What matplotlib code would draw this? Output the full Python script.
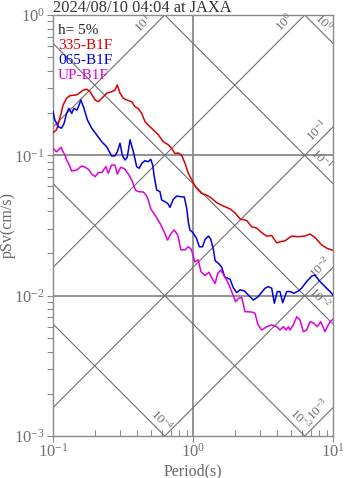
import numpy as np
import matplotlib
matplotlib.use("Agg")
import matplotlib.pyplot as plt
from matplotlib.ticker import LogLocator, FuncFormatter, NullFormatter

plt.rcParams['font.family'] = ['Liberation Serif', 'DejaVu Serif']
plt.rcParams['mathtext.fontset'] = 'custom'
plt.rcParams['mathtext.rm'] = 'Liberation Serif'
plt.rcParams['mathtext.it'] = 'Liberation Serif:italic'
plt.rcParams['mathtext.bf'] = 'Liberation Serif:bold'

# ---- spectra: period (s) and pseudo velocity (cm/s), damping 5% ----
red_T = [0.100, 0.106, 0.112, 0.118, 0.125, 0.132, 0.148, 0.165, 0.174, 0.184, 0.200,
         0.211, 0.229, 0.242, 0.262, 0.277, 0.288, 0.301, 0.318, 0.336, 0.365,
         0.385, 0.406, 0.430, 0.454, 0.479, 0.520, 0.565, 0.613, 0.666, 0.704,
         0.743, 0.785, 0.830, 0.877, 0.925, 0.995, 1.06, 1.15, 1.25, 1.36,
         1.48, 1.65, 1.84, 2.00, 2.17, 2.42, 2.62, 2.85, 3.10, 3.36,
         3.65, 3.96, 4.18, 4.54, 5.07, 5.65, 6.31, 6.85, 7.43, 8.30, 9.02, 10.0]
red_v = [0.145, 0.152, 0.184, 0.228, 0.255, 0.266, 0.270, 0.292, 0.296, 0.284, 0.248,
         0.241, 0.262, 0.277, 0.284, 0.292, 0.317, 0.277, 0.255, 0.248, 0.241,
         0.222, 0.216, 0.199, 0.174, 0.164, 0.152, 0.140, 0.125, 0.119, 0.112,
         0.103, 0.104, 0.100, 0.0877, 0.0745, 0.0649, 0.0582, 0.0536, 0.0521, 0.0494,
         0.0459, 0.0435, 0.0415, 0.0388, 0.0352, 0.0343, 0.0310, 0.0303, 0.0281, 0.0266,
         0.0268, 0.0238, 0.0242, 0.0246, 0.0266, 0.0263, 0.0266, 0.0275, 0.0260, 0.0230,
         0.0218, 0.0210]

blue_T = [0.100, 0.103, 0.109, 0.115, 0.120, 0.125, 0.130, 0.136, 0.141, 0.148,
          0.152, 0.158, 0.165, 0.176, 0.189, 0.205, 0.223, 0.242, 0.262, 0.277,
          0.288, 0.301, 0.313, 0.327, 0.339, 0.355, 0.375, 0.396, 0.413, 0.430,
          0.454, 0.479, 0.499, 0.515, 0.529, 0.550, 0.581, 0.597, 0.631, 0.659,
          0.685, 0.723, 0.765, 0.821, 0.866, 0.902, 0.925, 0.950, 1.00, 1.06,
          1.11, 1.17, 1.22, 1.29, 1.34, 1.40, 1.44, 1.52, 1.60, 1.69,
          1.84, 1.94, 2.05, 2.17, 2.33, 2.55, 2.70, 2.92, 3.27, 3.45,
          3.65, 3.81, 4.00, 4.18, 4.37, 4.67, 4.93, 5.26, 5.65, 5.97,
          6.48, 7.05, 7.43, 8.07, 8.77, 9.52, 10.0]
blue_v = [0.205, 0.179, 0.160, 0.156, 0.169, 0.199, 0.216, 0.199, 0.216, 0.210,
          0.222, 0.248, 0.222, 0.179, 0.156, 0.140, 0.125, 0.115, 0.0990, 0.0990,
          0.106, 0.122, 0.100, 0.0926, 0.0968, 0.129, 0.106, 0.0830, 0.0809, 0.0877,
          0.0916, 0.0901, 0.0937, 0.0853, 0.0705, 0.0566, 0.0551, 0.0481, 0.0467, 0.0455,
          0.0426, 0.0486, 0.0513, 0.0507, 0.0505, 0.0419, 0.0337, 0.0294, 0.0281, 0.0256,
          0.0223, 0.0223, 0.0252, 0.0266, 0.0252, 0.0212, 0.0177, 0.0170, 0.0160, 0.0135,
          0.0131, 0.0114, 0.0105, 0.0110, 0.0108, 0.00984, 0.00931, 0.00984, 0.0113, 0.0116,
          0.0113, 0.00883, 0.0107, 0.0107, 0.00891, 0.0107, 0.0107, 0.0104, 0.0108, 0.0113,
          0.0126, 0.0138, 0.0140, 0.0126, 0.0116, 0.0107, 0.0101]

mag_T = [0.100, 0.106, 0.114, 0.118, 0.122, 0.125, 0.129, 0.136, 0.148, 0.160,
         0.169, 0.179, 0.189, 0.200, 0.211, 0.223, 0.239, 0.248, 0.262, 0.277,
         0.288, 0.305, 0.324, 0.349, 0.365, 0.388, 0.406, 0.442, 0.467, 0.479,
         0.493, 0.501, 0.535, 0.581, 0.613, 0.659, 0.697, 0.735, 0.778, 0.821,
         0.877, 0.925, 0.968, 1.00, 1.03, 1.09, 1.14, 1.22, 1.30, 1.36,
         1.44, 1.50, 1.58, 1.69, 1.79, 1.91, 2.02, 2.11, 2.23, 2.35,
         2.62, 2.77, 2.92, 3.10, 3.36, 3.65, 3.96, 4.18, 4.42, 4.62,
         4.80, 4.93, 5.20, 5.51, 5.81, 6.14, 6.48, 6.85, 7.31, 7.73,
         8.17, 8.77, 9.10, 9.52, 10.0]
mag_v = [0.112, 0.106, 0.114, 0.106, 0.100, 0.0926, 0.0877, 0.0773, 0.0786, 0.0839,
         0.0826, 0.0795, 0.0736, 0.0705, 0.0755, 0.0753, 0.0832, 0.0745, 0.0853, 0.0853,
         0.0736, 0.0822, 0.0802, 0.0724, 0.0667, 0.0566, 0.0551, 0.0548, 0.0513, 0.0481,
         0.0435, 0.0412, 0.0376, 0.0328, 0.0294, 0.0249, 0.0278, 0.0294, 0.0270, 0.0212,
         0.0212, 0.0223, 0.0215, 0.0195, 0.0174, 0.0180, 0.0148, 0.0139, 0.0147, 0.0134,
         0.0122, 0.0144, 0.0152, 0.0136, 0.0122, 0.0104, 0.00906, 0.00958, 0.00970, 0.00769,
         0.00765, 0.00749, 0.00618, 0.00569, 0.00601, 0.00618, 0.00601, 0.00569, 0.00601, 0.00569,
         0.00601, 0.00569, 0.00618, 0.00708, 0.00671, 0.00554, 0.00569, 0.00652, 0.00635, 0.00601,
         0.00652, 0.00554, 0.00601, 0.00652, 0.00679]

series_names = ['335-B1F', '065-B1F', 'UP-B1F']
series_colors = ['#dd0000', '#0000dd', '#dd00dd']

# tripartite guide levels
accel_levels = [10, 1, 0.1, 0.01, 0.001]        # cm/s^2
disp_levels = [1, 0.1, 0.01, 0.001, 0.0001]     # cm
accel_exps = [1, 0, -1, -2, -3]
disp_exps = [0, -1, -2, -3, -4]

title = '2024/08/10 04:04 at JAXA'

fig = plt.figure(figsize=(3.47, 4.78), dpi=100)
ax = fig.add_axes([53 / 347, 1 - 436 / 478, 280 / 347, 421 / 478])
ax.set_xscale('log')
ax.set_yscale('log')
ax.set_xlim(0.1, 10)
ax.set_ylim(0.001, 1)

grey = '#8a8a8a'
diag = '#6e6e6e'

# grid at decades
ax.axvline(1, color=grey, lw=1.3, zorder=1)
for v in [0.1, 0.01]:
    ax.axhline(v, color=grey, lw=1.3, zorder=1)

# constant acceleration / displacement lines
Tline = np.array([0.1, 10.0])
for sa in accel_levels:
    ax.plot(Tline, sa * Tline / (2 * np.pi), color=diag, lw=0.8, zorder=2)
for sd in disp_levels:
    ax.plot(Tline, 2 * np.pi * sd / Tline, color=diag, lw=0.8, zorder=2)

lab_kw = dict(fontsize=9.5, color='#707070', rotation_mode='anchor',
              ha='center', va='bottom', textcoords='offset points',
              annotation_clip=False)
accel_label_T = [0.49, 5.0, 8.5, 9.0, 8.7]
for sa, e, tl in zip(accel_levels, accel_exps, accel_label_T):
    ax.annotate(r'$10^{%d}$' % e, xy=(tl, sa * tl / (2 * np.pi)),
                xytext=(-0.8, 0.8), rotation=45, **lab_kw)
disp_label_T = [7.8, 7.4, 7.2, 5.3, 0.54]
for sd, e, tl in zip(disp_levels, disp_exps, disp_label_T):
    ax.annotate(r'$10^{%d}$' % e, xy=(tl, 2 * np.pi * sd / tl),
                xytext=(0.8, 0.8), rotation=-45, **lab_kw)

# spectra
for T, v, c in zip([red_T, blue_T, mag_T], [red_v, blue_v, mag_v], series_colors):
    ax.plot(T, v, color=c, lw=1.1, zorder=3)

# axes styling
for s in ax.spines.values():
    s.set_color(grey)
    s.set_linewidth(1.0)

fmt = FuncFormatter(lambda x, p: r'$10^{%d}$' % int(round(np.log10(x))))
for axis in (ax.xaxis, ax.yaxis):
    axis.set_major_locator(LogLocator(base=10, numticks=10))
    axis.set_minor_locator(LogLocator(base=10, subs=np.arange(2, 10), numticks=10))
    axis.set_major_formatter(fmt)
    axis.set_minor_formatter(NullFormatter())

ax.tick_params(axis='both', which='both', color=grey, labelcolor='#707070',
               labelsize=12, width=0.8)
ax.tick_params(axis='x', which='major', direction='out', length=4, pad=1)
ax.tick_params(axis='x', which='minor', direction='in', length=4)
ax.tick_params(axis='y', which='both', direction='out', length=4, pad=2)

fig.text(8 / 347, 1 - 225 / 478, 'pSv(cm/s)', rotation=90, ha='center', va='center',
         fontsize=11.5, color='#666666')
fig.text(193 / 347, 1 - 471 / 478, 'Period(s)', ha='center', va='center',
         fontsize=11.5, color='#666666')
fig.text(53 / 347, 1 - 12 / 478, title, fontsize=11.8, color='#333333', va='baseline')

legend_y = [0.955, 0.919, 0.884, 0.849]
ax.text(0.018, legend_y[0], 'h= 5%', transform=ax.transAxes, fontsize=11,
        color='#222222', va='baseline')
for name, c, yy in zip(series_names, series_colors, legend_y[1:]):
    ax.text(0.018, yy, name, transform=ax.transAxes, fontsize=11, color=c, va='baseline')

fig.savefig('out.png', dpi=100)
